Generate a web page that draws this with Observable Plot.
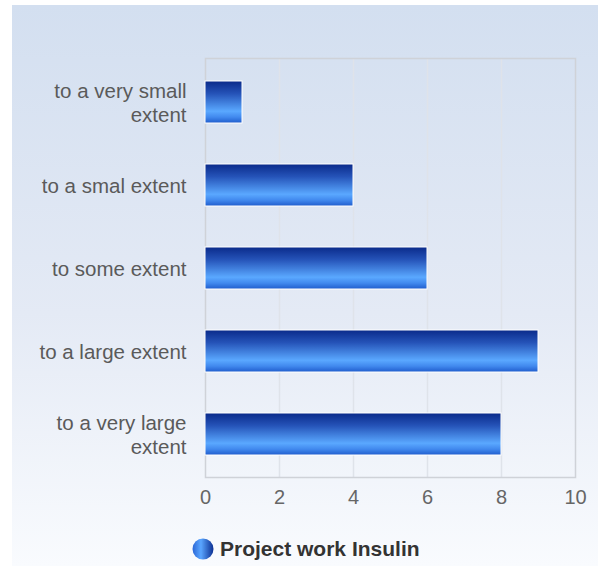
<!DOCTYPE html>
<html>
<head>
<meta charset="utf-8">
<script src="https://cdn.jsdelivr.net/npm/d3@7"></script>
<script src="https://cdn.jsdelivr.net/npm/@observablehq/plot@0.6"></script>
<style>
  html, body { margin: 0; padding: 0; background: #ffffff; }
  body { width: 598px; height: 566px; position: relative; overflow: hidden; font-family: "Liberation Sans", Arial, sans-serif; }
  #panel { position: absolute; left: 12px; top: 5px; width: 586px; height: 561px;
           background: linear-gradient(to bottom, #d3dff0 0%, #e4eaf5 55%, #f9fbfe 100%); }
  #chart { position: absolute; left: 0; top: 0; }
  #legend { position: absolute; left: 192px; top: 537px; display: flex; align-items: center;
            font-weight: bold; font-size: 21px; color: #333; line-height: 24px; }
  #legend svg { margin-right: 6px; }
</style>
</head>
<body>
<div id="panel"></div>
<div id="chart"></div>
<div id="legend">
  <svg width="22" height="22" viewBox="0 0 22 22">
    <defs>
      <linearGradient id="legGrad" x1="0" y1="0" x2="1" y2="0">
        <stop offset="0" stop-color="#2a66d6"/>
        <stop offset="0.4" stop-color="#5aa6ff"/>
        <stop offset="1" stop-color="#0c2f92"/>
      </linearGradient>
    </defs>
    <circle cx="11" cy="11" r="10.5" fill="url(#legGrad)"/>
  </svg>
  <span>Project work Insulin</span>
</div>
<script>
const categories = ["to a very small extent", "to a smal extent", "to some extent", "to a large extent", "to a very large extent"];
const labels = ["to a very small\nextent", "to a smal extent", "to some extent", "to a large extent", "to a very large\nextent"];
const values = [1, 4, 6, 9, 8];
const xTicks = [0, 2, 4, 6, 8, 10];
const seriesName = "Project work Insulin";

const data = categories.map((c, i) => ({category: c, value: values[i]}));
const labelOf = new Map(categories.map((c, i) => [c, labels[i]]));

const plot = Plot.plot({
  width: 598,
  height: 510,
  marginLeft: 205,
  marginRight: 23,
  marginTop: 58,
  marginBottom: 33,
  style: "background: transparent; font-family: 'Liberation Sans', Arial, sans-serif; overflow: visible;",
  x: {domain: [0, 10], ticks: xTicks},
  y: {domain: categories, paddingInner: 0.5, paddingOuter: 0.25},
  marks: [
    Plot.gridX(xTicks.slice(1, -1), {stroke: "#dfe3ea", strokeOpacity: 1, strokeWidth: 1.5}),
    Plot.frame({stroke: "#cfd2d8", strokeWidth: 1.5}),
    Plot.barX(data, {x: "value", y: "category", fill: "url(#barGrad)", stroke: "#ffffff", strokeWidth: 1}),
    Plot.axisX({ticks: xTicks, tickSize: 0, tickPadding: 12, fontSize: 20, color: "#666", label: null}),
    Plot.axisY({tickSize: 0, tickPadding: 19, fontSize: 20.5, color: "#5a5a5a", lineHeight: 1.17, label: null,
                tickFormat: d => labelOf.get(d)})
  ]
});

const ns = "http://www.w3.org/2000/svg";
const defs = document.createElementNS(ns, "defs");
defs.innerHTML = `<linearGradient id="barGrad" x1="0" y1="0" x2="0" y2="1">
  <stop offset="0" stop-color="#0a2a8a"/>
  <stop offset="0.3" stop-color="#2553b8"/>
  <stop offset="0.72" stop-color="#5aa8ff"/>
  <stop offset="0.86" stop-color="#4189ee"/>
  <stop offset="1" stop-color="#1f5ccc"/>
</linearGradient>`;
plot.insertBefore(defs, plot.firstChild);
document.getElementById("chart").appendChild(plot);
</script>
</body>
</html>
